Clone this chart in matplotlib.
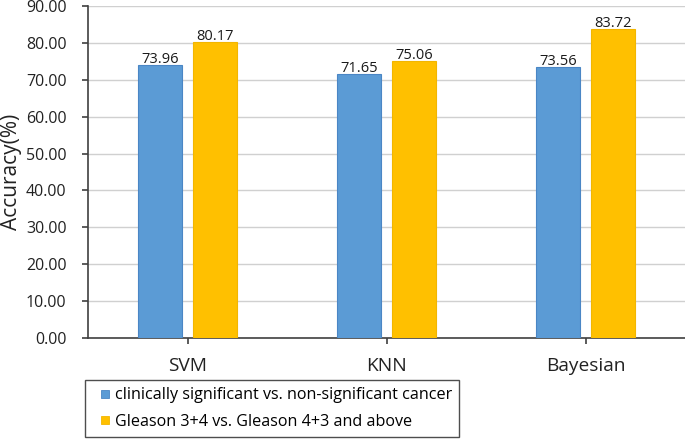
import matplotlib
matplotlib.use("Agg")
import matplotlib.pyplot as plt
from matplotlib.lines import Line2D
import numpy as np

categories = ["SVM", "KNN", "Bayesian"]
series_names = ["clinically significant vs. non-significant cancer",
                "Gleason 3+4 vs. Gleason 4+3 and above"]
clin_sig = [73.96, 71.65, 73.56]
gleason = [80.17, 75.06, 83.72]
yticks = [0, 10, 20, 30, 40, 50, 60, 70, 80, 90]

plt.rcParams['font.family'] = ['Open Sans', 'DejaVu Sans']

fig = plt.figure(figsize=(6.85, 4.4), dpi=100)
ax = fig.add_axes([88/685, 1-338/440, 597/685, 332/440])

c1, e1 = "#5B9BD5", "#4A86C5"
c2, e2 = "#FFC000", "#F2B600"
x = np.arange(len(categories))
w = 0.22
off = 0.139
b1 = ax.bar(x - off, clin_sig, w, color=c1, edgecolor=e1, linewidth=0.8, zorder=3)
b2 = ax.bar(x + off, gleason, w, color=c2, edgecolor=e2, linewidth=0.8, zorder=3)
for bars, vals in ((b1, clin_sig), (b2, gleason)):
    for r, v in zip(bars, vals):
        ax.annotate(f"{v:.2f}", (r.get_x() + r.get_width()/2, v), xytext=(0, -1.5),
                    textcoords="offset points", ha="center", va="bottom",
                    fontsize=10.5, color="#1a1a1a", zorder=4)

ax.set_xlim(-0.5, 2.5)
ax.set_ylim(0, 90)
ax.set_yticks(yticks)
ax.set_yticklabels([f"{t:.2f}" for t in yticks], fontsize=11.5, color="#222222")
ax.set_xticks(x)
ax.set_xticklabels(categories, fontsize=13.8, color="#222222")
ax.yaxis.grid(True, color="#D0D0D0", linewidth=1, zorder=0)
ax.set_axisbelow(True)
for s in ("top", "right"):
    ax.spines[s].set_visible(False)
for s in ("left", "bottom"):
    ax.spines[s].set_color("#404040")
    ax.spines[s].set_linewidth(1.2)
ax.tick_params(axis="y", length=4.5, width=1.2, color="#404040", pad=11)
ax.tick_params(axis="x", length=4.5, width=1.2, color="#404040", pad=9)
ax.set_ylabel("Accuracy(%)", fontsize=15, color="#222222")
ax.yaxis.set_label_coords(-66/597, 0.5)

handles = [Line2D([], [], linestyle="none", marker="s", markersize=5.8,
                  markerfacecolor=c1, markeredgecolor=e1, markeredgewidth=0.6),
           Line2D([], [], linestyle="none", marker="s", markersize=5.8,
                  markerfacecolor=c2, markeredgecolor=e2, markeredgewidth=0.6)]
leg = fig.legend(handles=handles, labels=series_names, loc="upper left",
                 bbox_to_anchor=(85/685, 1-380/440), fontsize=11.6, frameon=True,
                 fancybox=False, edgecolor="#222222", handlelength=1.6,
                 handletextpad=-0.2, borderpad=0.45, labelspacing=0.65, borderaxespad=0)
leg.get_frame().set_linewidth(1.0)

fig.savefig("out.png", dpi=100)
